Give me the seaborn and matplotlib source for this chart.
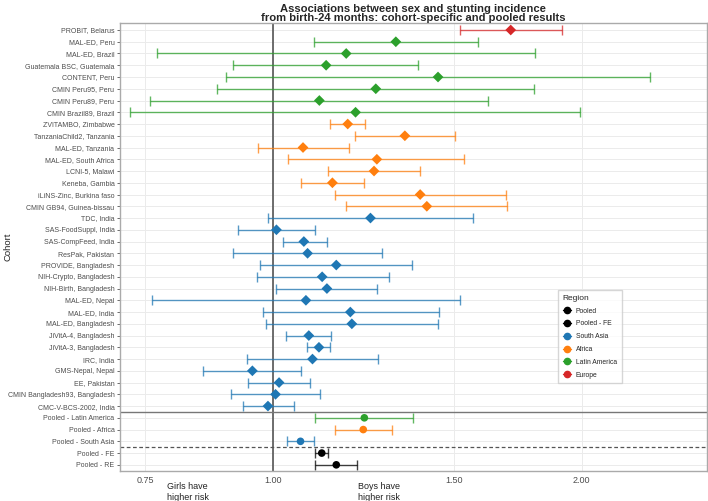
import matplotlib.pyplot as plt
import seaborn as sns
import numpy as np
import pandas as pd
from matplotlib.lines import Line2D

# data (relative risk, boys vs girls)
cohorts = [
    'PROBIT, Belarus', 'MAL-ED, Peru', 'MAL-ED, Brazil', 'Guatemala BSC, Guatemala',
    'CONTENT, Peru', 'CMIN Peru95, Peru', 'CMIN Peru89, Peru', 'CMIN Brazil89, Brazil',
    'ZVITAMBO, Zimbabwe', 'TanzaniaChild2, Tanzania', 'MAL-ED, Tanzania', 'MAL-ED, South Africa',
    'LCNI-5, Malawi', 'Keneba, Gambia', 'iLiNS-Zinc, Burkina faso', 'CMIN GB94, Guinea-bissau',
    'TDC, India', 'SAS-FoodSuppl, India', 'SAS-CompFeed, India', 'ResPak, Pakistan',
    'PROVIDE, Bangladesh', 'NIH-Crypto, Bangladesh', 'NIH-Birth, Bangladesh', 'MAL-ED, Nepal',
    'MAL-ED, India', 'MAL-ED, Bangladesh', 'JiVitA-4, Bangladesh', 'JiVitA-3, Bangladesh',
    'IRC, India', 'GMS-Nepal, Nepal', 'EE, Pakistan', 'CMIN Bangladesh93, Bangladesh',
    'CMC-V-BCS-2002, India', 'Pooled - Latin America', 'Pooled - Africa', 'Pooled - South Asia',
    'Pooled - FE', 'Pooled - RE',
]
regions = (['Europe'] + ['Latin America'] * 7 + ['Africa'] * 8 + ['South Asia'] * 17
           + ['Latin America', 'Africa', 'South Asia', 'Pooled - FE', 'Pooled'])
est = [1.705, 1.317, 1.178, 1.126, 1.448, 1.259, 1.109, 1.203,
       1.182, 1.344, 1.069, 1.262, 1.254, 1.142, 1.391, 1.412,
       1.244, 1.007, 1.071, 1.080, 1.152, 1.116, 1.128, 1.076,
       1.189, 1.193, 1.083, 1.108, 1.092, 0.954, 1.013, 1.005,
       0.988, 1.227, 1.224, 1.063, 1.115, 1.152]
lower = [1.520, 1.096, 0.770, 0.914, 0.900, 0.881, 0.758, 0.725,
         1.137, 1.202, 0.966, 1.034, 1.132, 1.064, 1.148, 1.177,
         0.989, 0.924, 1.021, 0.913, 0.971, 0.963, 1.007, 0.761,
         0.977, 0.984, 1.029, 1.079, 0.943, 0.853, 0.944, 0.910,
         0.934, 1.098, 1.148, 1.032, 1.099, 1.099]
upper = [1.912, 1.584, 1.802, 1.385, 2.333, 1.798, 1.621, 1.993,
         1.230, 1.503, 1.185, 1.536, 1.391, 1.227, 1.688, 1.692,
         1.565, 1.099, 1.127, 1.278, 1.366, 1.297, 1.262, 1.522,
         1.450, 1.447, 1.138, 1.137, 1.265, 1.065, 1.087, 1.110,
         1.048, 1.370, 1.306, 1.096, 1.132, 1.206]

legend_order = ['Pooled', 'Pooled - FE', 'South Asia', 'Africa', 'Latin America', 'Europe']
palette = {'Pooled': 'black', 'Pooled - FE': 'black', 'South Asia': '#1f77b4',
           'Africa': '#ff7f0e', 'Latin America': '#2ca02c', 'Europe': '#d62728'}

df = pd.DataFrame({'cohort': cohorts, 'region': regions, 'est': est,
                   'lower': lower, 'upper': upper})
df['y'] = np.arange(len(df))
df['kind'] = np.where(df['cohort'].str.startswith('Pooled'), 'pooled', 'cohort')

sns.set_theme(style='whitegrid')
plt.rcParams['font.family'] = ['Liberation Sans', 'DejaVu Sans']

fig = plt.figure(figsize=(7.08, 5.01), dpi=100)
ax = fig.add_axes([0.1695, 0.06, 0.8285, 0.8935])

# confidence intervals
for _, r in df.iterrows():
    ax.errorbar(r['est'], r['y'], xerr=[[r['est'] - r['lower']], [r['upper'] - r['est']]],
                fmt='none', ecolor=palette[r['region']], elinewidth=1.0, capsize=3.5,
                capthick=1.0, alpha=0.75, zorder=2)

sns.scatterplot(data=df, x='est', y='y', hue='region', palette=palette, style='kind',
                markers={'cohort': 'D', 'pooled': 'o'}, s=30, edgecolor='none',
                legend=False, ax=ax, zorder=3)

ax.axvline(1.0, color='#555555', lw=1.2, zorder=1)
ax.axhline(32.5, color='#777777', lw=1.0, zorder=1)
ax.axhline(35.5, color='#555555', lw=0.9, ls=(0, (3, 2)), zorder=1)

ax.set_xscale('log')
ax.set_xlim(0.7085, 2.648)
ax.set_xticks([0.75, 1.0, 1.5, 2.0])
ax.set_xticklabels(['0.75', '1.00', '1.50', '2.00'])
ax.xaxis.set_minor_locator(plt.NullLocator())
ax.set_ylim(37.52, -0.57)
ax.set_yticks(df['y'])
ax.set_yticklabels(df['cohort'])

ax.grid(True, color='#ebebeb', lw=0.7)
ax.tick_params(axis='y', labelsize=5.0, labelcolor='#4d4d4d', length=2.0, width=0.6,
               color='#555555', left=True, pad=2)
ax.tick_params(axis='x', labelsize=6.5, labelcolor='#4d4d4d', length=0, pad=4)
for sp in ax.spines.values():
    sp.set_color('#aaaaaa')
    sp.set_linewidth(1.0)

ax.set_xlabel('')
ax.set_ylabel('Cohort', fontsize=6.8, color='#222222')
ax.yaxis.set_label_coords(-0.183, 0.5)
ax.set_title('Associations between sex and stunting incidence\n'
             'from birth-24 months: cohort-specific and pooled results',
             fontsize=8.1, fontweight='bold', pad=1.5, linespacing=0.92)

ax.annotate('Girls have\nhigher risk', xy=(0.825, 0.018), xycoords=('data', 'figure fraction'),
            ha='center', va='center', fontsize=6.5, color='#222222', annotation_clip=False)
ax.annotate('Boys have\nhigher risk', xy=(1.268, 0.018), xycoords=('data', 'figure fraction'),
            ha='center', va='center', fontsize=6.5, color='#222222', annotation_clip=False)

handles = [Line2D([0], [0], color=palette[k], marker='o', markersize=4.5, lw=1.0, label=k)
           for k in legend_order]
leg = ax.legend(handles=handles, title='Region', loc='upper left',
                bbox_to_anchor=(0.7466, 0.404), borderaxespad=0, fontsize=4.9,
                title_fontsize=6.0, frameon=True, fancybox=False, edgecolor='#cccccc',
                handlelength=1.2, labelspacing=0.85, borderpad=0.7, handletextpad=0.7)
leg._legend_box.align = 'left'

fig.savefig('out.png', dpi=100)
